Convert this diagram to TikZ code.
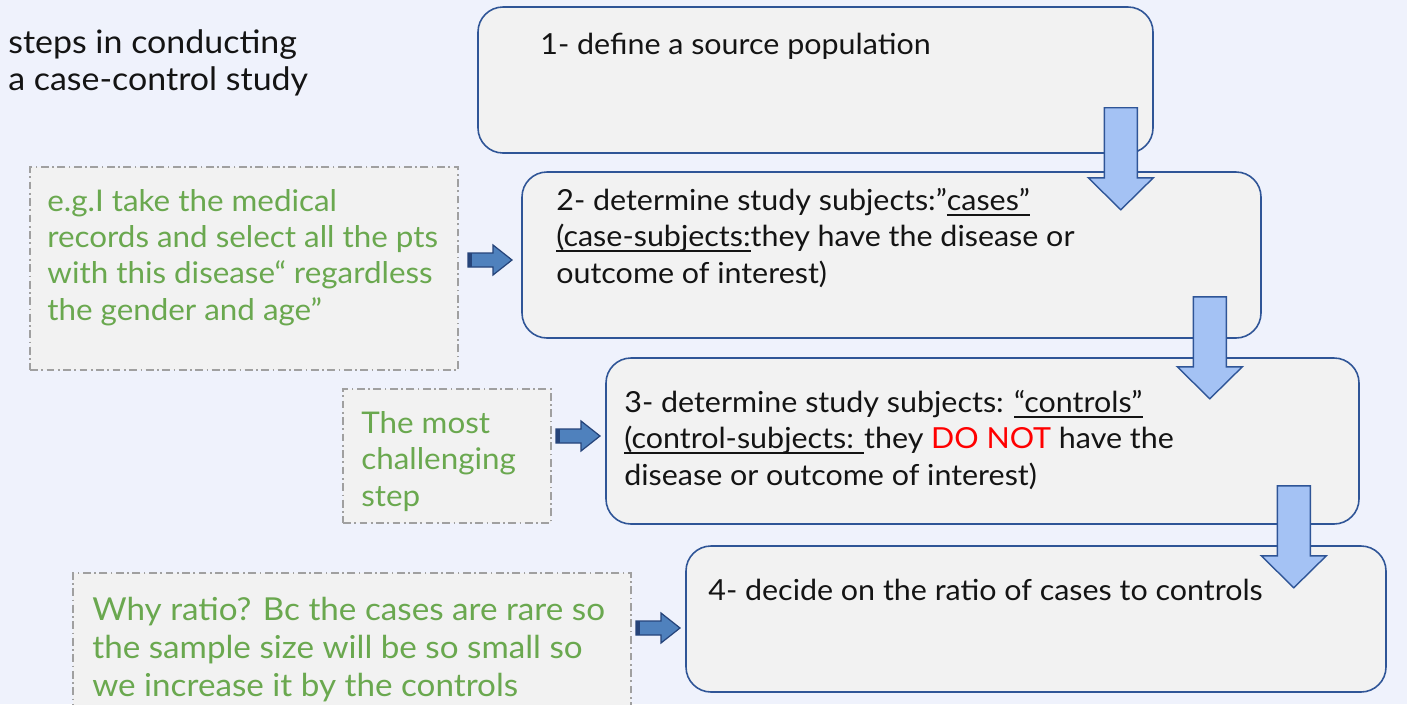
\documentclass[tikz,border=0pt]{standalone}
\usepackage{fontspec}
\setmainfont[FakeStretch=1.05]{Lato}
\usetikzlibrary{shapes,arrows,fit,calc,positioning}
\definecolor{bgblue}{RGB}{239,242,252}
\definecolor{boxgrey}{RGB}{242,242,242}
\definecolor{boxblue}{RGB}{47,85,151}
\definecolor{arrowblue}{RGB}{164,194,244}
\definecolor{midblue}{RGB}{79,129,189}
\definecolor{deepblue}{RGB}{38,68,122}
\definecolor{notegreen}{RGB}{106,168,79}
\definecolor{notegrey}{RGB}{160,160,160}
\definecolor{textdark}{RGB}{20,20,20}
\newcommand{\undl}[1]{\setbox0\hbox{#1}\rlap{\rule[-3pt]{\wd0}{1.4pt}}\box0}
\tikzset{stepbox/.style={draw=boxblue, fill=boxgrey, rounded corners=0.5cm, line width=0.9pt, inner sep=0pt}}
\tikzstyle{note}=[draw=notegrey, fill=boxgrey, line width=0.85pt, dash pattern=on 4.5pt off 2pt on 0.9pt off 2pt, inner sep=0pt]
\tikzstyle{txt}=[anchor=base west, align=left, inner sep=0pt, text=textdark, font=\fontsize{16.5}{20.5}\selectfont]
\tikzstyle{greentxt}=[txt, text=notegreen, font=\fontsize{17}{20.5}\selectfont]
\tikzset{downarr/.pic={
  \draw[draw=boxblue, fill=arrowblue, line width=0.8pt, line join=miter]
    (-16.5,0) -- (16.5,0) -- (16.5,70) -- (32.5,70) -- (0,102) -- (-32.5,70) -- (-16.5,70) -- cycle;},
  rightarr/.pic={
  \draw[draw=deepblue, fill=midblue, line width=0.7pt, line join=miter]
    (-22,-7) -- (3,-7) -- (3,-15) -- (22,0) -- (3,15) -- (3,7) -- (-22,7) -- cycle;
  \fill[deepblue] (-22,-7) rectangle (-18,7);}}

\begin{document}
\begin{tikzpicture}[x=0.02cm, y=-0.02cm]
\clip (0,0) rectangle (1407,704);
\fill[bgblue] (0,0) rectangle (1407,704);

\node[note, fit={(30,167) (458,370)}] (noteA) {};
\node[note, fit={(343,389) (551,523)}] (noteB) {};
\node[note, fit={(73,573) (631,730)}] (noteC) {};

\node[stepbox, fit={(478,7) (1153,153)}] (box1) {};
\node[stepbox, fit={(522,172) (1261,338)}] (box2) {};
\node[stepbox, fit={(606,358) (1359,524)}] (box3) {};
\node[stepbox, fit={(686,546) (1386,692)}] (box4) {};

\pic at ($(box1.south east)+(-33,-46)$) {downarr};
\pic at ($(box2.south east)+(-52,-42)$) {downarr};
\pic at ($(box3.south east)+(-66,-39)$) {downarr};

\pic at (490,260) {rightarr};
\pic at (578,436) {rightarr};
\pic at (658,628) {rightarr};

\node[txt, font=\fontsize{18.4}{21}\selectfont] (title) at (8,90) {steps in conducting\\a case-control study};
\node[txt] (step1) at (540,54) {1- define a source population};
\node[txt] (step2) at (556,283) {2- determine study subjects:"\undl{cases”}\\\undl{(case-subjects:}they have the disease or\\outcome of interest)};
\node[txt] (step3) at (624,485) {3- determine study subjects: \undl{“controls”}\\\undl{(control-subjects: }they {\color{red}DO NOT} have the\\disease or outcome of interest)};
\node[txt] (step4) at (708,600) {4- decide on the ratio of cases to controls};

\node[greentxt] (ex1) at (47,320) {e.g.I take the medical\\records and select all the pts\\with this disease“ regardless\\the gender and age”};
\node[greentxt] (ex2) at (361,506) {The most\\challenging\\step};
\node[greentxt, font=\fontsize{18}{21.6}\selectfont] (ex3) at (92,696) {Why ratio? Bc the cases are rare so\\the sample size will be so small so\\we increase it by the controls};
\end{tikzpicture}
\end{document}
